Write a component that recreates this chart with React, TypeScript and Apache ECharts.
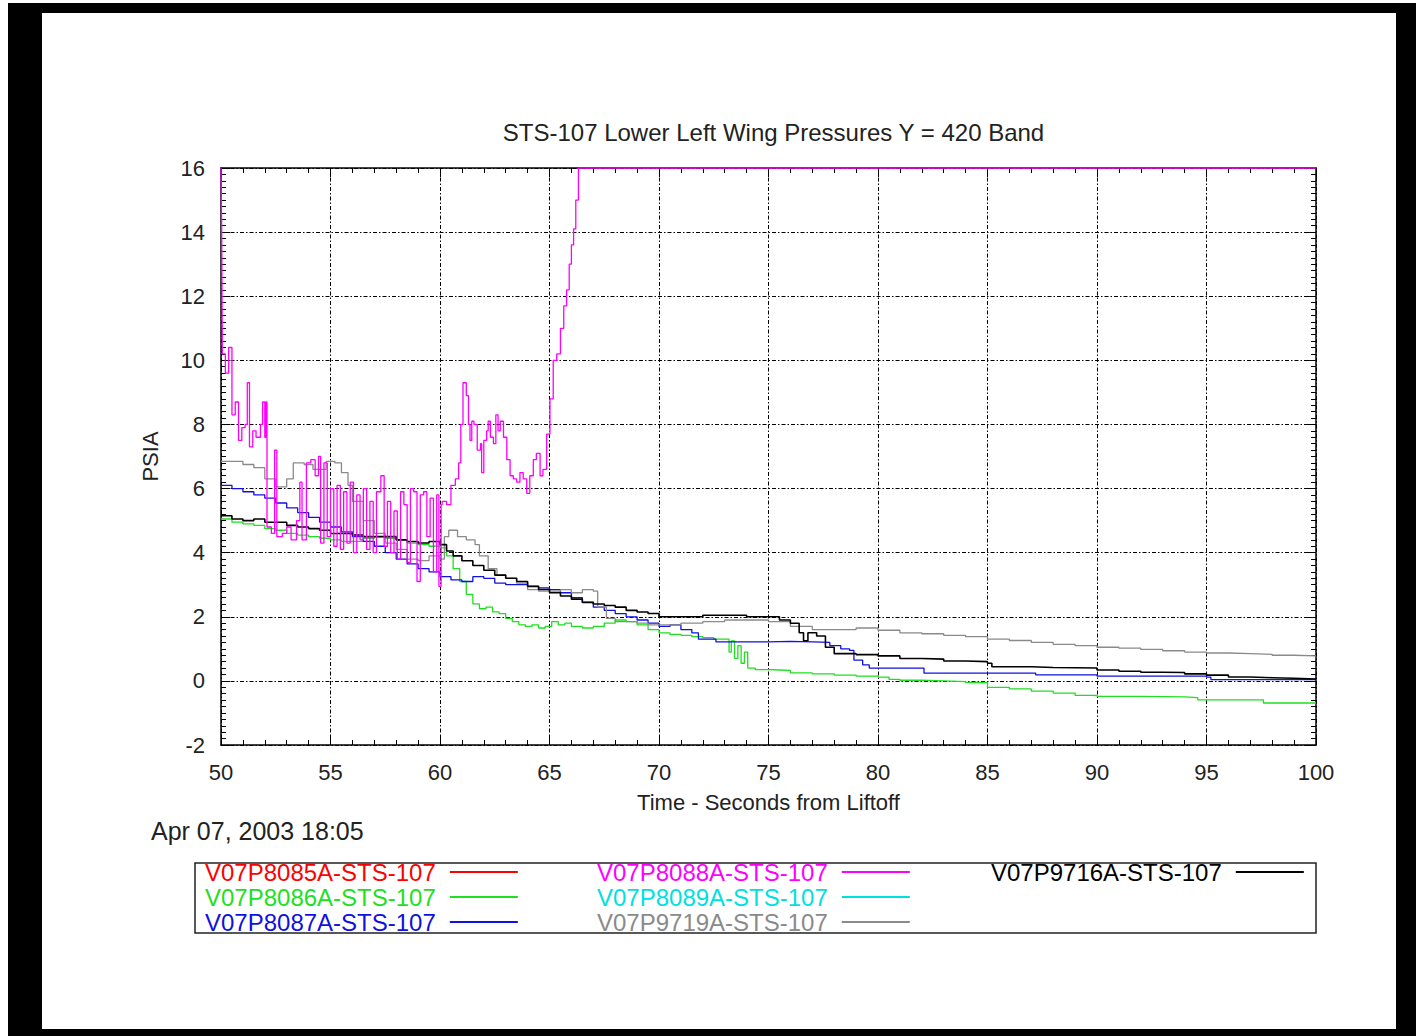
import React, { useEffect, useRef } from "react";
import * as echarts from "echarts";

const FONT = "Liberation Sans, Arial, sans-serif";

const titleText = "STS-107 Lower Left Wing Pressures Y = 420 Band";
const dateText = "Apr 07, 2003 18:05";
const xName = "Time - Seconds from Liftoff";
const yName = "PSIA";

const seriesNames = [
  "V07P8085A-STS-107",
  "V07P8086A-STS-107",
  "V07P8087A-STS-107",
  "V07P8088A-STS-107",
  "V07P8089A-STS-107",
  "V07P9719A-STS-107",
  "V07P9716A-STS-107",
];
const seriesColors = ["#ff0000", "#1ee01e", "#1010e0", "#ff00ff", "#00e0e0", "#8a8a8a", "#000000"];

// [time (s), pressure (psia)]
const p8085: number[][] = [];
const p8089: number[][] = [];

const p8086 = [
  [50, 5.05], [50.5, 4.95], [51, 4.9], [51.5, 4.85], [52, 4.75], [52.5, 4.7], [53, 4.6], [53.5, 4.55],
  [54, 4.5], [54.5, 4.45], [55, 4.4], [55.5, 4.35], [56, 4.35], [56.5, 4.45], [57, 4.5], [57.5, 4.45],
  [58, 4.4], [58.5, 4.3], [59, 4.25], [59.5, 4.2], [60, 4.15], [60.3, 3.9], [60.6, 3.5], [60.9, 3.1],
  [61.2, 2.7], [61.5, 2.4], [61.8, 2.25], [62.1, 2.3], [62.4, 2.15], [62.7, 2.1], [63, 1.95], [63.3, 1.85],
  [63.6, 1.75], [63.9, 1.7], [64.2, 1.75], [64.5, 1.65], [64.8, 1.7], [65.1, 1.85], [65.4, 1.75], [65.7, 1.8],
  [66, 1.7], [66.5, 1.65], [67, 1.7], [67.5, 1.8], [68, 1.9], [68.5, 1.85], [69, 1.75], [69.5, 1.6],
  [70, 1.5], [70.5, 1.45], [71, 1.42], [71.5, 1.38], [72, 1.35], [72.5, 1.3], [73, 1.3], [73.2, 0.9],
  [73.3, 1.25], [73.45, 0.7], [73.6, 1.1], [73.75, 0.55], [73.9, 0.9], [74.05, 0.4], [74.4, 0.35], [75, 0.34],
  [75.5, 0.33], [76, 0.25], [77, 0.22], [78, 0.18], [79, 0.15], [80, 0.12], [80.5, 0.05], [81, 0.02],
  [82, 0], [83, -0.02], [84, -0.05], [85, -0.2], [86, -0.25], [87, -0.32], [88, -0.38], [89, -0.45],
  [90, -0.48], [92, -0.5], [94, -0.52], [94.6, -0.59], [97.6, -0.69], [100, -0.7],
];

const p8087 = [
  [50, 6.1], [50.5, 6.0], [51, 5.9], [51.5, 5.8], [52, 5.7], [52.5, 5.55], [53, 5.4], [53.5, 5.25],
  [54, 5.1], [54.5, 4.95], [55, 4.8], [55.5, 4.65], [56, 4.5], [56.5, 4.35], [57, 4.2], [57.5, 4.0],
  [58, 3.8], [58.5, 3.65], [59, 3.5], [59.5, 3.4], [60, 3.25], [60.5, 3.15], [61, 3.1], [61.5, 3.25],
  [62, 3.2], [62.5, 3.05], [63, 3.0], [63.5, 3.0], [64, 2.95], [64.5, 2.9], [65, 2.85], [65.5, 2.75],
  [66, 2.6], [66.5, 2.45], [67, 2.3], [67.5, 2.2], [68, 2.1], [68.5, 2.0], [69, 1.9], [69.5, 1.8],
  [70, 1.7], [70.5, 1.75], [71, 1.6], [71.5, 1.5], [71.8, 1.3], [72.6, 1.22], [74, 1.22], [75, 1.23],
  [76, 1.22], [77, 1.2], [77.8, 1.1], [78.3, 1.0], [78.7, 0.95], [78.9, 0.65], [79.3, 0.5], [79.6, 0.4],
  [82, 0.4], [82.1, 0.24], [87, 0.24], [87.2, 0.19], [89.6, 0.19], [90, 0.15], [95, 0.12], [95.2, 0.04],
  [100, 0.04],
];

const p8088 = [
  [50, 16], [50.03, 14.2], [50.06, 10.2], [50.2, 9.6], [50.35, 10.4], [50.5, 8.3], [50.65, 8.7], [50.8, 7.5],
  [50.95, 7.9], [51.1, 8.0], [51.2, 9.3], [51.3, 7.3], [51.45, 7.8], [51.6, 7.6], [51.8, 8.0], [51.9, 8.7],
  [52.0, 7.6], [52.05, 8.7], [52.1, 4.8], [52.3, 4.6], [52.45, 7.2], [52.55, 4.5], [52.8, 4.6], [53.0, 4.8],
  [53.2, 4.4], [53.45, 5.0], [53.6, 6.2], [53.7, 4.4], [53.9, 6.8], [54.1, 6.9], [54.3, 6.4], [54.45, 7.0],
  [54.55, 4.3], [54.7, 6.8], [54.85, 4.5], [55.0, 6.0], [55.15, 4.2], [55.3, 6.1], [55.45, 4.1], [55.6, 5.9],
  [55.75, 4.3], [55.9, 6.2], [56.05, 4.0], [56.2, 5.8], [56.35, 4.4], [56.5, 6.0], [56.65, 4.1], [56.8, 5.6],
  [56.95, 4.0], [57.1, 5.9], [57.3, 6.4], [57.45, 4.2], [57.6, 5.6], [57.75, 4.0], [57.9, 5.3], [58.05, 3.8],
  [58.2, 5.9], [58.35, 5.5], [58.5, 3.7], [58.65, 6.0], [58.8, 5.9], [58.95, 3.1], [59.1, 5.8], [59.25, 5.9],
  [59.4, 4.5], [59.55, 5.7], [59.7, 3.4], [59.85, 5.8], [59.95, 2.95], [60.05, 5.5], [60.1, 5.6], [60.3, 5.5],
  [60.5, 6.1], [60.7, 6.3], [60.85, 6.8], [60.95, 8.0], [61.05, 9.3], [61.2, 8.9], [61.3, 8.0], [61.37, 7.5],
  [61.45, 8.1], [61.55, 8.0], [61.7, 7.2], [61.85, 7.4], [61.9, 6.5], [62.0, 7.5], [62.13, 7.8], [62.2, 8.1],
  [62.3, 7.6], [62.44, 7.4], [62.55, 8.3], [62.65, 7.8], [62.75, 8.1], [62.9, 7.6], [63.05, 6.9], [63.2, 6.4],
  [63.35, 6.3], [63.5, 6.2], [63.65, 6.5], [63.8, 6.3], [63.96, 5.85], [64.1, 6.4], [64.26, 6.9], [64.4, 7.1],
  [64.57, 6.4], [64.7, 6.6], [64.87, 7.7], [65.02, 8.8], [65.17, 10.0], [65.33, 10.2], [65.5, 11.0], [65.65, 11.7],
  [65.78, 12.2], [65.9, 13.0], [66.0, 13.6], [66.1, 14.1], [66.2, 15.0], [66.32, 16], [100, 16],
];

const p9719 = [
  [50, 6.85], [50.5, 6.85], [51, 6.75], [51.5, 6.65], [52, 6.3], [52.5, 6.05], [53, 6.3], [53.3, 6.8],
  [53.8, 6.75], [54.2, 6.6], [54.8, 6.85], [55.2, 6.8], [55.5, 6.5], [55.8, 6.1], [56, 5.6], [56.5, 5.0],
  [57, 4.6], [57.5, 4.3], [58, 4.1], [58.5, 3.8], [59, 3.75], [59.5, 3.9], [60, 3.8], [60.2, 4.5],
  [60.4, 4.7], [60.8, 4.5], [61.2, 4.4], [61.6, 4.25], [61.8, 3.9], [62.2, 3.5], [62.6, 3.3], [63, 3.2],
  [63.5, 3.05], [64, 2.85], [64.5, 2.8], [65, 2.8], [65.5, 2.85], [66, 2.75], [66.5, 2.85], [67, 2.8],
  [67.2, 2.3], [67.6, 1.95], [68, 1.85], [68.5, 1.85], [69, 1.8], [69.5, 1.75], [70, 1.75], [71, 1.8],
  [72, 1.85], [73, 1.9], [74, 1.9], [75, 1.85], [76, 1.7], [77, 1.6], [78, 1.6], [79, 1.65],
  [80, 1.58], [81, 1.5], [82, 1.47], [83, 1.42], [84, 1.38], [85, 1.3], [86, 1.26], [87, 1.2],
  [88, 1.14], [89, 1.1], [90, 1.05], [91, 1.02], [92, 0.98], [93, 0.94], [94, 0.9], [95, 0.87],
  [96, 0.85], [97, 0.83], [98, 0.8], [99, 0.78], [100, 0.76],
];

const p9716 = [
  [50, 5.15], [50.5, 5.05], [51, 5.0], [51.5, 5.05], [52, 4.95], [52.5, 4.95], [53, 4.85], [53.5, 4.8],
  [54, 4.75], [54.5, 4.7], [55, 4.6], [55.5, 4.6], [56, 4.55], [56.5, 4.5], [57, 4.5], [57.5, 4.5],
  [58, 4.4], [58.5, 4.35], [59, 4.3], [59.5, 4.35], [60, 4.25], [60.3, 4.05], [60.6, 3.9], [61, 3.75],
  [61.5, 3.6], [62, 3.45], [62.5, 3.3], [63, 3.2], [63.5, 3.1], [64, 2.95], [64.5, 2.85], [65, 2.75],
  [65.5, 2.65], [66, 2.55], [66.5, 2.45], [67, 2.4], [67.5, 2.35], [68, 2.3], [68.5, 2.2], [69, 2.15],
  [69.5, 2.1], [70, 2.0], [71, 2.0], [72, 2.05], [73, 2.05], [74, 2.0], [75, 2.0], [75.5, 1.9],
  [76, 1.8], [76.4, 1.5], [76.6, 1.25], [76.8, 1.5], [77.2, 1.4], [77.6, 1.05], [78, 0.85], [79, 0.82],
  [80, 0.78], [81, 0.7], [82, 0.68], [83, 0.62], [84, 0.6], [85, 0.55], [85.2, 0.44], [87, 0.42],
  [88, 0.4], [90, 0.34], [91, 0.3], [92, 0.27], [93, 0.26], [94, 0.22], [95, 0.18], [96, 0.12],
  [97, 0.1], [98, 0.08], [99, 0.06], [100, 0.05],
];

const seriesData = [p8085, p8086, p8087, p8088, p8089, p9719, p9716];
const seriesStep: (string | boolean)[] = ["end", "end", "end", "end", "end", "end", "end"];

const xMin = 50, xMax = 100, xStep = 5;
const yMin = -2, yMax = 16, yStep = 2;

const legendColumns = [
  [0, 1, 2],
  [3, 4, 5],
  [6],
];
const legendLefts = [205, 597, 991];

export default function App() {
  const ref = useRef<HTMLDivElement>(null);
  useEffect(() => {
    if (!ref.current) return;
    const chart = echarts.init(ref.current, null, { renderer: "svg" });
    const gridDash = [4, 2, 1.5, 2];
    const axisLabelStyle = { fontSize: 22, fontFamily: FONT, color: "#222" };
    const frameAxisLine = { show: true, onZero: false, lineStyle: { color: "#000", width: 1.5 } };
    const option: any = {
      animation: false,
      backgroundColor: "#ffffff",
      title: {
        text: titleText,
        left: 768.5,
        top: 115,
        textAlign: "center",
        textStyle: { fontSize: 24, fontWeight: "normal", fontFamily: FONT, color: "#222" },
      },
      grid: { left: 221, right: 100, top: 168, bottom: 291, containLabel: false },
      xAxis: [
        {
          type: "value",
          min: xMin,
          max: xMax,
          interval: xStep,
          position: "bottom",
          name: xName,
          nameLocation: "middle",
          nameGap: 46,
          nameTextStyle: { fontSize: 22, fontFamily: FONT, color: "#222" },
          axisLine: frameAxisLine,
          axisTick: { show: true, inside: true, length: 9, lineStyle: { color: "#000" } },
          minorTick: { show: true, splitNumber: 5, length: 5, lineStyle: { color: "#000" } },
          axisLabel: { ...axisLabelStyle, margin: 16 },
          splitLine: { show: true, lineStyle: { color: "#000", type: gridDash, width: 1 } },
        },
        {
          type: "value",
          min: xMin,
          max: xMax,
          interval: xStep,
          position: "top",
          axisLine: frameAxisLine,
          axisTick: { show: true, inside: true, length: 9, lineStyle: { color: "#000" } },
          minorTick: { show: true, splitNumber: 5, length: 5, lineStyle: { color: "#000" } },
          axisLabel: { show: false },
          splitLine: { show: false },
        },
      ],
      yAxis: [
        {
          type: "value",
          min: yMin,
          max: yMax,
          interval: yStep,
          position: "left",
          name: yName,
          nameLocation: "middle",
          nameGap: 60,
          nameTextStyle: { fontSize: 22, fontFamily: FONT, color: "#222" },
          axisLine: frameAxisLine,
          axisTick: { show: true, inside: true, length: 9, lineStyle: { color: "#000" } },
          minorTick: { show: true, splitNumber: 10, length: 5, lineStyle: { color: "#000" } },
          axisLabel: { ...axisLabelStyle, margin: 16 },
          splitLine: { show: true, lineStyle: { color: "#000", type: gridDash, width: 1 } },
        },
        {
          type: "value",
          min: yMin,
          max: yMax,
          interval: yStep,
          position: "right",
          axisLine: frameAxisLine,
          axisTick: { show: true, inside: true, length: 9, lineStyle: { color: "#000" } },
          minorTick: { show: true, splitNumber: 10, length: 5, lineStyle: { color: "#000" } },
          axisLabel: { show: false },
          splitLine: { show: false },
        },
      ],
      legend: legendColumns.map((col, ci) => ({
        orient: "vertical",
        left: legendLefts[ci],
        top: 860,
        padding: 0,
        itemGap: 1,
        itemWidth: 68,
        itemHeight: 2,
        icon: "rect",
        align: "right",
        selectedMode: false,
        textStyle: { fontSize: 24, fontFamily: FONT, lineHeight: 22.5, padding: [0, 9, 0, 0] },
        data: col.map((i) => ({ name: seriesNames[i], textStyle: { color: seriesColors[i] } })),
      })),
      series: seriesNames.map((name, i) => ({
        name,
        type: "line",
        data: seriesData[i],
        step: seriesStep[i],
        showSymbol: false,
        symbol: "none",
        color: seriesColors[i],
        lineStyle: { color: seriesColors[i], width: i === 6 ? 1.6 : 1.3 },
        z: i === 3 ? 3 : 2,
      })),
      graphic: [
        { type: "rect", shape: { x: 8, y: 3, width: 1408, height: 10 }, style: { fill: "#000" } },
        { type: "rect", shape: { x: 8, y: 3, width: 34, height: 1033 }, style: { fill: "#000" } },
        { type: "rect", shape: { x: 1396, y: 3, width: 20, height: 1033 }, style: { fill: "#000" } },
        { type: "rect", shape: { x: 8, y: 1029, width: 1408, height: 7 }, style: { fill: "#000" } },
        {
          type: "rect",
          shape: { x: 195, y: 863, width: 1121, height: 70 },
          style: { fill: "none", stroke: "#222", lineWidth: 1.5 },
          z: -1,
        },
        {
          type: "text",
          left: 151,
          top: 818,
          style: { text: dateText, fontSize: 25, fontFamily: FONT, fill: "#222" },
        },
      ],
    };
    chart.setOption(option);
    return () => chart.dispose();
  }, []);
  return (
    <div
      ref={ref}
      style={{ position: "absolute", left: 0, top: 0, width: 1416, height: 1036, background: "#fff" }}
    />
  );
}
